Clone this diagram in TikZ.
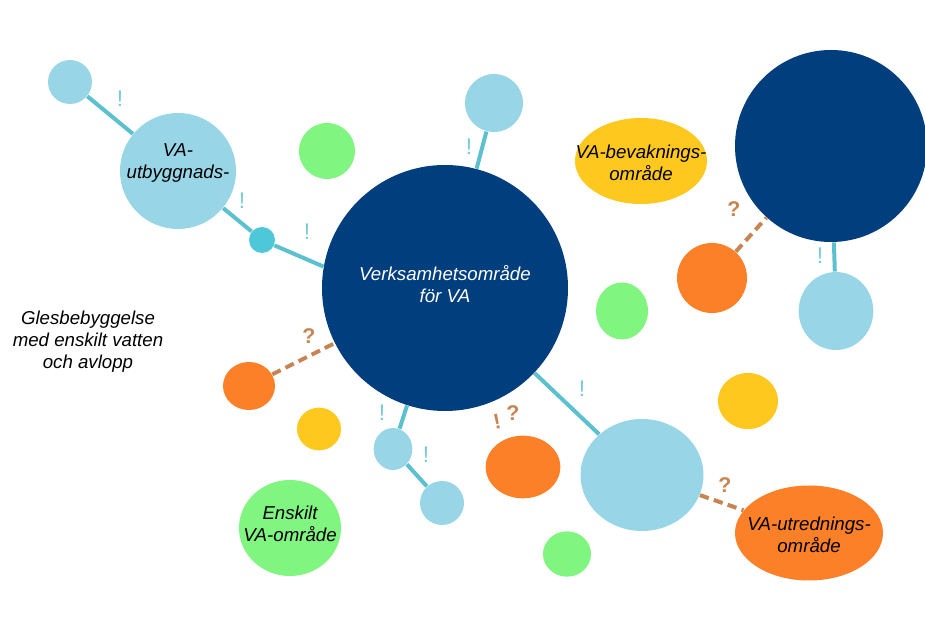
\documentclass[tikz,border=0pt]{standalone}
\usepackage{fontspec}
\setmainfont{Liberation Sans}
\usetikzlibrary{shapes.geometric}

\definecolor{vaNavy}{RGB}{0,62,126}
\definecolor{vaSky}{RGB}{152,214,231}
\definecolor{vaCyan}{RGB}{78,200,216}
\definecolor{vaGreen}{RGB}{128,245,128}
\definecolor{vaYellow}{RGB}{255,200,30}
\definecolor{vaOrange}{RGB}{252,128,40}
\definecolor{vaLine}{RGB}{92,192,206}
\definecolor{vaBang}{RGB}{120,202,214}
\definecolor{vaAsk}{RGB}{200,132,82}

\tikzset{every picture/.style={line width=0.75pt}}

\begin{document}
\begin{tikzpicture}[x=0.75pt,y=0.75pt,yscale=-1,xscale=1,
	bubble/.style={circle,inner sep=0pt,draw=none},
	blob/.style={ellipse,inner sep=0pt,draw=none},
	link/.style={draw=vaLine,line width=3pt},
	maybe/.style={draw=vaAsk,line width=3pt,dash pattern=on 7pt off 4pt},
	bang/.style={font=\fontsize{17}{17}\selectfont,text=vaBang,inner sep=0pt},
	ask/.style={font=\fontsize{16}{16}\selectfont\bfseries,text=vaAsk,inner sep=0pt},
	areatext/.style={font=\fontsize{14}{16.5}\selectfont\itshape,align=center,inner sep=0pt}]
	%set diagram left start at 0, and has height of 630
	\useasboundingbox (0,0) rectangle (925,630);
	
	%Shape: Circle [top left] 
	\node [bubble,fill=vaSky,minimum size=33pt] (skyA) at (70,82) {};
	%Shape: Circle [VA-utbyggnads] 
	\node [bubble,fill=vaSky,minimum size=87pt] (utb) at (178,171) {};
	%Shape: Circle [small dot] 
	\node [bubble,fill=vaCyan,minimum size=19.5pt] (dot) at (262,240) {};
	%Shape: Circle 
	\node [bubble,fill=vaGreen,minimum size=42pt] (greenA) at (327,151) {};
	%Shape: Circle [Verksamhetsomraade] 
	\node [bubble,fill=vaNavy,minimum size=184.5pt] (verk) at (445,288) {};
	%Shape: Circle 
	\node [bubble,fill=vaSky,minimum size=43.5pt] (skyB) at (494,103) {};
	%Shape: Ellipse [VA-bevakningsomraade] 
	\node [blob,fill=vaYellow,minimum width=99pt,minimum height=64.5pt] (bevak) at (641,161) {};
	%Shape: Circle [right navy] 
	\node [bubble,fill=vaNavy,minimum size=144pt] (navyB) at (831,146) {};
	%Shape: Circle 
	\node [bubble,fill=vaOrange,minimum size=52.5pt] (orangeA) at (712,278) {};
	%Shape: Ellipse 
	\node [blob,fill=vaSky,minimum width=56pt,minimum height=58.5pt] (skyC) at (836,311) {};
	%Shape: Ellipse 
	\node [blob,fill=vaGreen,minimum width=39pt,minimum height=42.75pt] (greenB) at (622,311) {};
	%Shape: Ellipse 
	\node [blob,fill=vaYellow,minimum width=45pt,minimum height=42pt] (yellowA) at (748,401) {};
	%Shape: Ellipse 
	\node [blob,fill=vaSky,minimum width=92.25pt,minimum height=84pt] (skyD) at (642,475) {};
	%Shape: Ellipse [VA-utredningsomraade] 
	\node [blob,fill=vaOrange,minimum width=111pt,minimum height=71.25pt] (utred) at (809,533) {};
	%Shape: Ellipse 
	\node [blob,fill=vaGreen,minimum width=36pt,minimum height=34pt] (greenC) at (567,554) {};
	%Shape: Ellipse 
	\node [blob,fill=vaOrange,minimum width=39pt,minimum height=36pt] (orangeB) at (249,386) {};
	%Shape: Ellipse 
	\node [blob,fill=vaYellow,minimum width=33pt,minimum height=32pt] (yellowB) at (319,429) {};
	%Shape: Ellipse 
	\node [blob,fill=vaSky,minimum width=29pt,minimum height=31.5pt] (skyE) at (393,449) {};
	%Shape: Circle 
	\node [bubble,fill=vaSky,minimum size=33pt] (skyF) at (442,503) {};
	%Shape: Ellipse 
	\node [blob,fill=vaOrange,minimum width=56pt,minimum height=47pt] (orangeC) at (523,467) {};
	%Shape: Ellipse [Enskilt VA-omraade] 
	\node [blob,fill=vaGreen,minimum width=76.5pt,minimum height=72pt] (ensk) at (290,528) {};
	
	%Straight Lines 
	\draw [link] (skyA) -- (utb) ;
	\draw [link] (utb) -- (dot) ;
	\draw [link] (dot) -- (verk.170) ;
	\draw [link] (skyB) -- (verk) ;
	\draw [link] (verk) -- (skyD) ;
	\draw [link] (verk) -- (skyE) ;
	\draw [link] (skyE) -- (skyF) ;
	\draw [link] (navyB) -- (skyC) ;
	%Dashed Lines 
	\draw [maybe] (orangeB) -- (verk) ;
	\draw [maybe] (orangeA) -- (navyB) ;
	\draw [maybe] (skyD) -- (utred) ;
	
	% Text Node
	\node [areatext] (utbtxt) at (178,163) {VA-\\utbyggnads-};
	% Text Node
	\node [areatext,text=white] (verktxt) at (445,284) {Verksamhetsområde\\för VA};
	% Text Node
	\node [areatext] (bevaktxt) at (641,163) {VA-bevaknings-\\område};
	% Text Node
	\node [areatext] (utredtxt) at (809,535) {VA-utrednings-\\område};
	% Text Node
	\node [areatext] (ensktxt) at (290,524) {Enskilt\\VA-område};
	% Text Node
	\node [areatext] (gles) at (88,342) {Glesbebyggelse\\med enskilt vatten\\och avlopp};
	
	% Text Node
	\node [bang] (b1) at (120,99) {!};
	\node [bang] (b2) at (242,201) {!};
	\node [bang] (b3) at (307,232) {!};
	\node [bang] (b4) at (469,147) {!};
	\node [bang] (b5) at (582,389) {!};
	\node [bang] (b6) at (382,413) {!};
	\node [bang] (b7) at (426,455) {!};
	\node [bang] (b8) at (820,256) {!};
	% Text Node
	\node [ask] (q1) at (309,336) {?};
	\node [ask] (q2) at (734,209) {?};
	\node [ask] (q3) at (725,485) {?};
	\node [ask,rotate=12] (q4a) at (497,422) {!};
	\node [ask] (q4b) at (513,413) {?};
	
\end{tikzpicture}
\end{document}
